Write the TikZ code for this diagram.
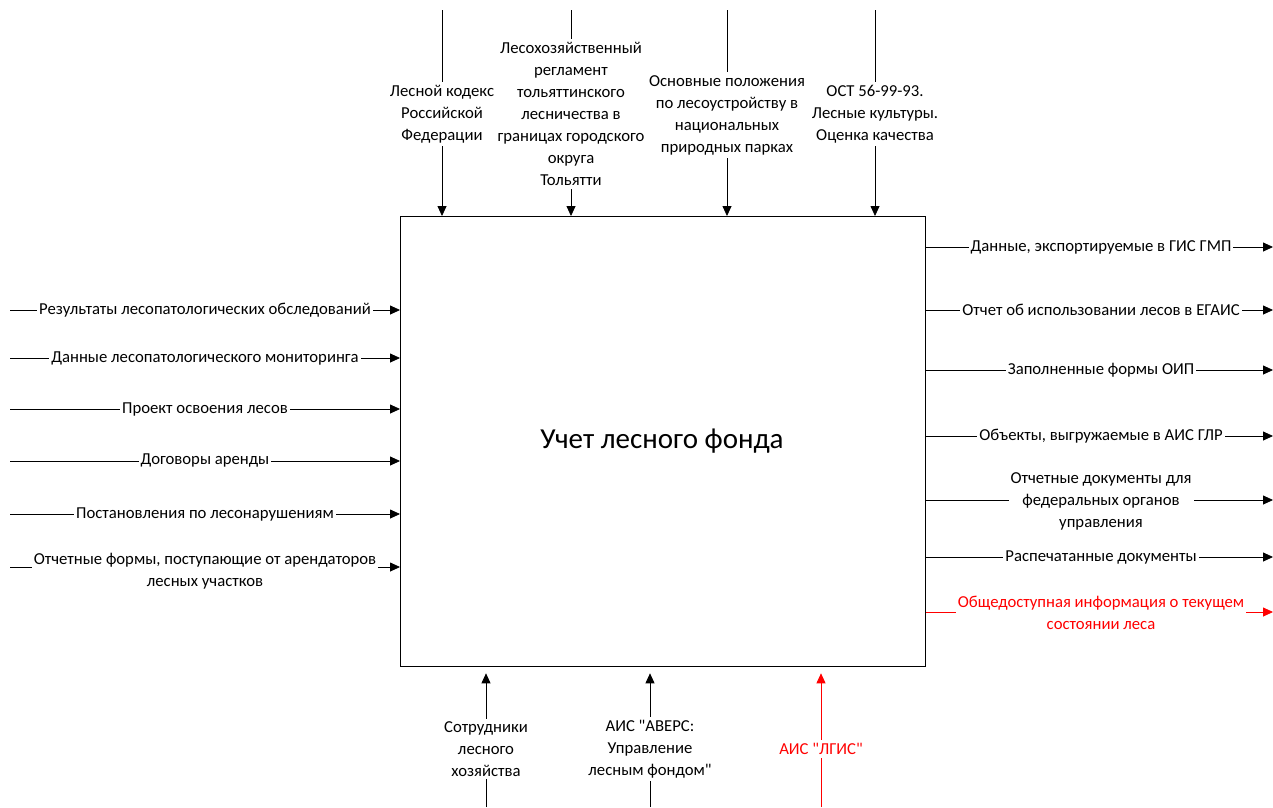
\documentclass[tikz,border=0pt]{standalone}
\usepackage{fontspec}
\setmainfont{Carlito}[Ligatures=TeXOff]
\usetikzlibrary{arrows.meta}
\definecolor{hot}{RGB}{255,0,0}
\tikzset{
  arr/.style={line width=0.8pt, -{Triangle[length=10pt,width=9pt]}},
  lbl/.style={fill=white, inner xsep=2pt, inner ysep=3pt, align=center,
              font=\fontsize{16.7}{22}\selectfont},
  mainbox/.style={draw, line width=1.3pt, minimum width=525pt, minimum height=450pt,
                  anchor=north west, inner sep=0pt},
}
\begin{document}
\begin{tikzpicture}[x=1pt,y=-1pt]
\useasboundingbox (0,0) rectangle (1273,807);

% activity box
\node[mainbox] (box) at (400,216) {};
\node[font=\fontsize{29}{34}\selectfont] (title) at (662,441) {Учет лесного фонда};

% free ends of the connectors
\coordinate (t1) at (442,10);
\coordinate (t2) at (571,10);
\coordinate (t3) at (727,10);
\coordinate (t4) at (875,10);

\coordinate (l1) at (10,310);
\coordinate (l2) at (10,358);
\coordinate (l3) at (10,409);
\coordinate (l4) at (10,461);
\coordinate (l5) at (10,514);
\coordinate (l6) at (10,567);

\coordinate (r1) at (1273,247);
\coordinate (r2) at (1273,310);
\coordinate (r3) at (1273,370);
\coordinate (r4) at (1273,436);
\coordinate (r5) at (1273,500);
\coordinate (r6) at (1273,557);
\coordinate (r7) at (1273,612);

\coordinate (b1) at (486,807);
\coordinate (b2) at (650,807);
\coordinate (b3) at (821,807);

% controls
\foreach \c in {t1,t2,t3,t4}
  \draw[arr] (\c) -- (\c |- box.north);
% inputs
\foreach \c in {l1,l2,l3,l4,l5,l6}
  \draw[arr] (\c) -- (\c -| box.west);
% outputs
\foreach \c in {r1,r2,r3,r4,r5,r6}
  \draw[arr] (box.east |- \c) -- (\c);
\draw[arr, hot] (box.east |- r7) -- (r7);
% mechanisms
\draw[arr, shorten >=6pt] (b1) -- (b1 |- box.south);
\draw[arr, shorten >=6pt] (b2) -- (b2 |- box.south);
\draw[arr, hot, shorten >=6pt] (b3) -- (b3 |- box.south);

% control labels
\node[lbl] (lt1) at (442,114) {Лесной кодекс\\Российской\\Федерации};
\node[lbl] (lt2) at (571,114) {Лесохозяйственный\\регламент\\тольяттинского\\лесничества в\\границах городского\\округа\\Тольятти};
\node[lbl] (lt3) at (727,115) {Основные положения\\по лесоустройству в\\национальных\\природных парках};
\node[lbl] (lt4) at (875,114) {ОСТ 56-99-93.\\Лесные культуры.\\Оценка качества};

% input labels
\node[lbl] (ll1) at (205,310) {Результаты лесопатологических обследований};
\node[lbl] (ll2) at (205,358) {Данные лесопатологического мониторинга};
\node[lbl] (ll3) at (205,409) {Проект освоения лесов};
\node[lbl] (ll4) at (205,461) {Договоры аренды};
\node[lbl] (ll5) at (205,514) {Постановления по лесонарушениям};
\node[lbl] (ll6) at (205,571) {Отчетные формы, поступающие от арендаторов\\лесных участков};

% output labels
\node[lbl] (lr1) at (1101,247) {Данные, экспортируемые в ГИС ГМП};
\node[lbl] (lr2) at (1101,310) {Отчет об использовании лесов в ЕГАИС};
\node[lbl] (lr3) at (1101,370) {Заполненные формы ОИП};
\node[lbl] (lr4) at (1101,436) {Объекты, выгружаемые в АИС ГЛР};
\node[lbl] (lr5) at (1101,501) {Отчетные документы для\\федеральных органов\\управления};
\node[lbl] (lr6) at (1101,557) {Распечатанные документы};
\node[lbl, text=hot] (lr7) at (1101,613) {Общедоступная информация о текущем\\состоянии леса};

% mechanism labels
\node[lbl] (lb1) at (486,749) {Сотрудники\\лесного\\хозяйства};
\node[lbl] (lb2) at (650,749) {АИС "АВЕРС:\\Управление\\лесным фондом"};
\node[lbl, text=hot] (lb3) at (821,749) {АИС "ЛГИС"};
\end{tikzpicture}
\end{document}
